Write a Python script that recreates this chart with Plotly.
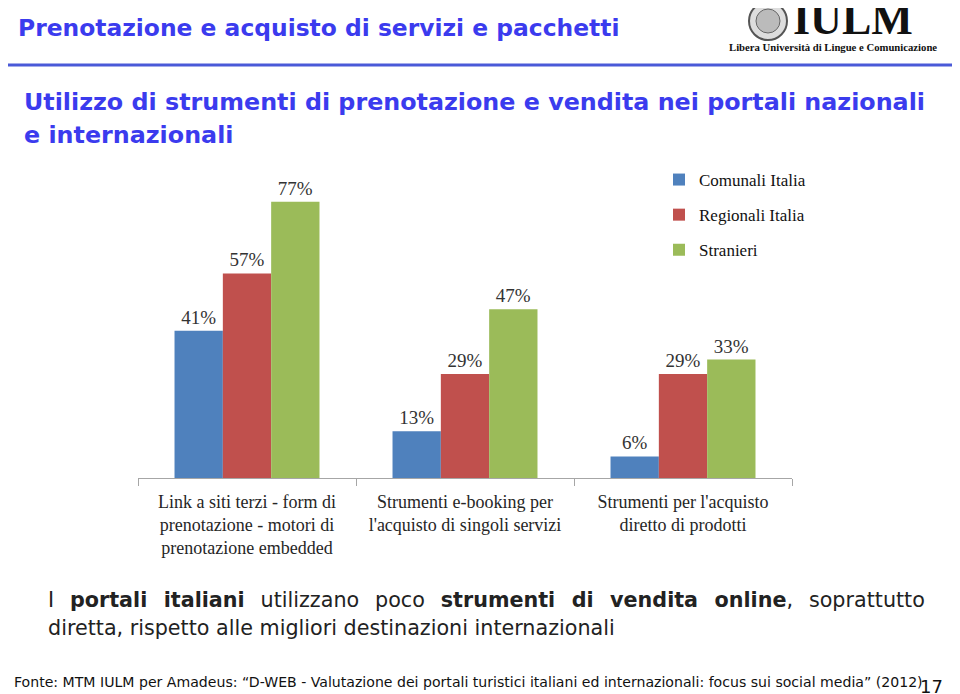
import plotly.graph_objects as go

categories = [
    "Link a siti terzi - form di<br>prenotazione - motori di<br>prenotazione embedded",
    "Strumenti e-booking per<br>l'acquisto di singoli servizi",
    "Strumenti per l'acquisto<br>diretto di prodotti",
]
series_names = ["Comunali Italia", "Regionali Italia", "Stranieri"]
comunali = [41, 13, 6]
regionali = [57, 29, 29]
stranieri = [77, 47, 33]
colors = ["#4F81BD", "#C0504D", "#9BBB59"]

W, H = 960, 694
OX, OY = 8, 8  # page body margin offset


def px(x):
    return (x - OX) / W


def py(y):
    return (H - (y - OY)) / H


fig = go.Figure()
for name, vals, col in zip(series_names, [comunali, regionali, stranieri], colors):
    fig.add_trace(go.Bar(
        x=categories, y=vals, name=name, legendgroup=name,
        marker=dict(color=col, line=dict(width=0)),
        text=[f"{v}%" for v in vals], textposition="outside",
        textfont=dict(family="Liberation Serif", size=19, color="#333333"),
        cliponaxis=False,
    ))

TITLE_BLUE = "#3B3BEE"
SP = " \u2005\u2009"
line1 = SP.join(["I", "<b>portali", "italiani</b>", "utilizzano", "poco",
                 "<b>strumenti", "di", "vendita", "online</b>,", "soprattutto"])
annotations = [
    dict(text="<b>Prenotazione e acquisto di servizi e pacchetti</b>", x=px(16), y=py(28),
         font=dict(family="DejaVu Sans", size=23.4, color=TITLE_BLUE)),
    dict(text="<b>Utilizzo di strumenti di prenotazione e vendita nei portali nazionali</b>", x=px(22), y=py(102),
         font=dict(family="DejaVu Sans", size=23.8, color=TITLE_BLUE)),
    dict(text="<b>e internazionali</b>", x=px(22), y=py(135),
         font=dict(family="DejaVu Sans", size=23.8, color=TITLE_BLUE)),
    dict(text="<b>IULM</b>", x=px(791), y=py(20),
         font=dict(family="Liberation Serif", size=44, color="#111111")),
    dict(text="<b>Libera Università di Lingue e Comunicazione</b>", x=px(727), y=py(47),
         font=dict(family="Liberation Serif", size=10.7, color="#111111")),
    dict(text=line1, x=px(46), y=py(600), font=dict(family="DejaVu Sans", size=20.7, color="#222222")),
    dict(text="diretta, rispetto alle migliori destinazioni internazionali",
         x=px(46), y=py(628), font=dict(family="DejaVu Sans", size=20.7, color="#222222")),
    dict(text="Fonte: MTM IULM per Amadeus: \u201cD-WEB - Valutazione dei portali turistici italiani ed internazionali: focus sui social media\u201d (2012)",
         x=px(12), y=py(682), font=dict(family="DejaVu Sans", size=14.1, color="#111111")),
    dict(text="17", x=px(918), y=py(686), font=dict(family="DejaVu Sans", size=18, color="#111111")),
]
for a in annotations:
    a.update(xref="paper", yref="paper", xanchor="left", yanchor="middle", showarrow=False)

shapes = [
    dict(type="line", xref="paper", yref="paper", x0=0, x1=1, y0=py(65), y1=py(65),
         line=dict(color="#4A5AD8", width=3)),
    dict(type="circle", xref="paper", yref="paper", x0=px(749), x1=px(787), y0=py(40), y1=py(2),
         line=dict(color="#555555", width=2), fillcolor="#DDDDDD"),
    dict(type="circle", xref="paper", yref="paper", x0=px(756), x1=px(780), y0=py(33), y1=py(9),
         line=dict(color="#666666", width=1), fillcolor="#BBBBBB"),
]

fig.update_layout(
    width=W, height=H,
    margin=dict(l=0, r=0, t=0, b=0),
    paper_bgcolor="white", plot_bgcolor="white",
    barmode="group", bargap=0.335, bargroupgap=0,
    xaxis=dict(domain=[px(138), px(792)], showline=True, linecolor="#A6A6A6", linewidth=1,
               ticks="outside", tickson="boundaries", ticklen=7, tickcolor="#A6A6A6",
               ticklabelstandoff=7,
               tickfont=dict(family="Liberation Serif", size=18, color="#262626"),
               showgrid=False, zeroline=False, fixedrange=True),
    yaxis=dict(domain=[py(478), py(155)], range=[0, 90], visible=False, showgrid=False, fixedrange=True),
    showlegend=True,
    legend=dict(x=px(659), y=py(162), xanchor="left", yanchor="top", traceorder="grouped",
                tracegroupgap=10,
                font=dict(family="Liberation Serif", size=17, color="#111111"),
                bgcolor="rgba(0,0,0,0)", itemclick=False, itemdoubleclick=False),
    annotations=annotations, shapes=shapes,
)
fig.write_html("out.html")
